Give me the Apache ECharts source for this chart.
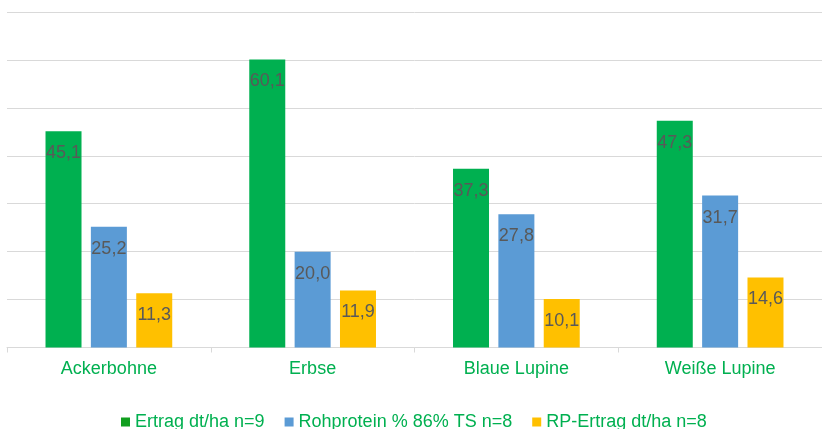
<!DOCTYPE html>
<html>
<head>
<meta charset="utf-8">
<script src="https://cdn.jsdelivr.net/npm/echarts@6/dist/echarts.min.js"></script>
<style>
html,body{margin:0;padding:0;background:#fff;}
#chart{width:822px;height:429px;}
</style>
</head>
<body>
<div id="chart"></div>
<script>
const categories = ['Ackerbohne', 'Erbse', 'Blaue Lupine', 'Weiße Lupine'];
const seriesNames = ['Ertrag dt/ha n=9', 'Rohprotein % 86% TS n=8', 'RP-Ertrag dt/ha n=8'];
const ertrag = [45.1, 60.1, 37.3, 47.3];
const rohprotein = [25.2, 20.0, 27.8, 31.7];
const rpErtrag = [11.3, 11.9, 10.1, 14.6];

const colors = ['#00B050', '#5B9BD5', '#FFC000'];
const font = 'Liberation Sans, Arial, sans-serif';

const chart = echarts.init(document.getElementById('chart'), null, {renderer: 'canvas'});

function mkSeries(name, data, color) {
  return {
    name: name,
    type: 'bar',
    data: data,
    barWidth: 36,
    barGap: '26%',
    itemStyle: {color: color},
    label: {
      show: true,
      position: 'insideTop',
      distance: 13,
      color: '#595959',
      fontSize: 18,
      fontFamily: font,
      formatter: p => p.value.toFixed(1).replace('.', ',')
    }
  };
}

chart.setOption({
  animation: false,
  textStyle: {fontFamily: font},
  grid: {left: 7, right: -3, top: 12, bottom: 81.5, containLabel: false},
  legend: {
    left: 121,
    top: 413,
    padding: 0,
    itemWidth: 9,
    itemHeight: 9,
    itemGap: 20,
    icon: 'rect',
    textStyle: {color: '#00B050', fontSize: 18, fontFamily: font, padding: [0, 0, 0, 0]},
    data: [
      {name: seriesNames[0], itemStyle: {color: '#119F1F'}},
      {name: seriesNames[1]},
      {name: seriesNames[2]}
    ]
  },
  xAxis: {
    type: 'category',
    data: categories,
    axisLine: {show: true, lineStyle: {color: '#D9D9D9', width: 1}},
    axisTick: {show: true, length: 5, lineStyle: {color: '#D9D9D9'}},
    axisLabel: {color: '#00B050', fontSize: 18, fontFamily: font, margin: 13}
  },
  yAxis: {
    type: 'value',
    min: 0,
    max: 70,
    interval: 10,
    axisLabel: {show: false},
    axisLine: {show: false},
    axisTick: {show: false},
    splitLine: {lineStyle: {color: '#D9D9D9', width: 1}}
  },
  series: [
    mkSeries(seriesNames[0], ertrag, colors[0]),
    mkSeries(seriesNames[1], rohprotein, colors[1]),
    mkSeries(seriesNames[2], rpErtrag, colors[2])
  ]
});
</script>
</body>
</html>
